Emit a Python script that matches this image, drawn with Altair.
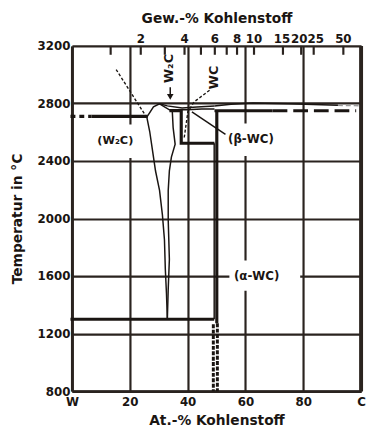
import altair as alt
import pandas as pd

FONT = "DejaVu Sans"
INK = "#1a1512"
GRID = "#2a231f"

# ---- axes ----
x_ticks = [0, 20, 40, 60, 80, 100]
y_ticks = [800, 1200, 1600, 2000, 2400, 2800, 3200]
gew_ticks = [1, 2, 3, 4, 5, 6, 7, 8, 10, 15, 20, 25, 50]
gew_labels = [2, 4, 6, 8, 10, 15, 20, 25, 50]
gew_label_nudge = [0, 0, 0, 0, 0, -1, -2, 2, 0]


def at_pct(w):
    """weight-% carbon -> atom-% carbon (W-C)"""
    c = w / 12.011
    m = (100 - w) / 183.84
    return 100 * c / (c + m)


# ---- phase lines (at.-% C, temperature) ----
thick_lines = {
    "eut_W":      ([6.8, 26.2], [2710, 2710]),
    "eutectoid":  ([-0.5, 49.2], [1300, 1300]),
    "beta_box":   ([33.7, 37.8, 37.8, 49.3], [2749, 2749, 2523, 2523]),
    "top_2750":   ([49.3, 69.4], [2749, 2749]),
    "wc_line":    ([50.1, 50.1], [2749, 1272]),
}
long_dash_lines = {
    "eut_W_dash":  ([-0.5, 6.8], [2710, 2710]),
}
long_dash2_lines = {
    "top_2750_dash": ([69.4, 98.3], [2749, 2749]),
}
short_dash_lines = {
    "wc_low_l": ([48.9, 48.9], [1265, 800]),
    "wc_low_r": ([50.3, 50.3], [1272, 800]),
}
thin_lines = {
    "w2c_left":  ([25.9, 26.9, 27.9, 28.9, 30.3, 31.3, 32.0, 32.3, 32.7, 33.0],
                  [2705, 2605, 2468, 2332, 2195, 2024, 1853, 1648, 1477, 1300]),
    "w2c_right": ([34.7, 35.0, 35.7, 34.4, 33.7, 33.3, 33.3, 33.7, 33.3, 33.0],
                  [2749, 2632, 2516, 2427, 2332, 2195, 1990, 1716, 1511, 1300]),
    "liq_top":   ([25.9, 28.2, 30.3, 33.0, 38.1, 43.2, 49.3],
                  [2705, 2776, 2797, 2783, 2769, 2776, 2783]),
    "sol_top":   ([30.3, 33.7, 39.8, 44.9, 49.3], [2797, 2756, 2756, 2762, 2762]),
    "liq_C":     ([49.3, 55.0, 62.6, 75.0, 92.0], [2783, 2795, 2803, 2798, 2787]),
    "delta_left": ([49.2, 49.2], [2523, 1300]),
    "beta_leader": ([41.5, 53.1], [2742, 2585]),
    "arrow":     ([34.0, 34.0], [2913, 2850]),
}
dotted_lines = {
    "liq_W":  ([15.3, 25.5], [3036, 2714]),
    "liq_WC": ([47.6, 42.2, 40.1, 38.8], [2892, 2810, 2742, 2557]),
}
grey_lines = {
    "liq_C_end": ([92.0, 100.0], [2787, 2784]),
}
frame_lines = {
    "right": ([100, 100], [800, 3200]),
}

# labels
label_text = ["(W\u2082C)", "(\u03b2-WC)", "(\u03b1-WC)"]
label_at = [15.0, 61.9, 63.9]
label_T = [2537, 2550, 1600]
label_size = [11.5, 12, 12]

box_at = [15.1, 62.2, 66.7]
box_T = [2537, 2547, 1603]
box_w = [46, 52, 72]
box_h = [34, 33, 31]

rot_text = ["W\u2082C", "WC"]
rot_at = [33.6, 49.3]
rot_T = [3043, 2981]

arrow_at = [34.0]
arrow_T = [2846]


def lines_df(d):
    rows = []
    for name, (xs, ts) in d.items():
        for i, (a, t) in enumerate(zip(xs, ts)):
            rows.append({"line": name, "i": i, "at": a, "T": t})
    return pd.DataFrame(rows)


xscale = alt.Scale(domain=[0, 100], nice=False, zero=False, clamp=False)
yscale = alt.Scale(domain=[800, 3200], nice=False, zero=False)

nb = "\u00a0\u00a0"
xaxis = alt.Axis(
    values=x_ticks,
    labelExpr=f"datum.value == 0 ? '{nb}W' : datum.value == 100 ? 'C' : datum.label",
    grid=True, gridColor=GRID, gridWidth=2.2, gridOpacity=1,
    domainColor=GRID, domainWidth=3, ticks=False,
    labelPadding=6, labelFontSize=12, labelFontWeight="bold", labelFont=FONT,
    labelColor=INK, labelFlush=False, labelOverlap=False,
    title="At.-% Kohlenstoff", titleFont=FONT, titleFontSize=14,
    titleFontWeight="bold", titleColor=INK, titleX=147, titleY=33.5,
    titleBaseline="alphabetic", titleAlign="center",
)
yaxis = alt.Axis(
    values=y_ticks, format="d",
    grid=True, gridColor=GRID, gridWidth=2.2, gridOpacity=1,
    domainColor=GRID, domainWidth=3, ticks=False,
    labelPadding=2, labelFontSize=12, labelFontWeight="bold", labelFont=FONT,
    labelColor=INK, labelOverlap=False, labelFlush=False,
    title="Temperatur in \u00b0C", titleFont=FONT, titleFontSize=14,
    titleFontWeight="bold", titleColor=INK, titleAngle=270,
    titleX=-51, titleY=175.5, titleAlign="center", titleBaseline="alphabetic",
)

X = alt.X("at:Q", scale=xscale, axis=xaxis)
Y = alt.Y("T:Q", scale=yscale, axis=yaxis)

layers = []

# white boxes behind the labels
for a, t, w, h in zip(box_at, box_T, box_w, box_h):
    bdf = pd.DataFrame({"at": [a], "T": [t]})
    layers.append(
        alt.Chart(bdf).mark_rect(
            color="white", xOffset=-w / 2, x2Offset=w / 2,
            yOffset=-h / 2, y2Offset=h / 2,
        ).encode(x=X, x2="at:Q", y=Y, y2="T:Q")
    )


def line_layer(d, **kw):
    return alt.Chart(lines_df(d)).mark_line(**kw).encode(
        x=X, y=Y, detail="line:N", order="i:Q"
    )


layers += [
    line_layer(thin_lines, color=INK, strokeWidth=1.5),
    line_layer(dotted_lines, color=INK, strokeWidth=1.4, strokeDash=[3, 2]),
    line_layer(grey_lines, color="#9a9a9a", strokeWidth=1.5, strokeDash=[5, 3]),
    line_layer(thick_lines, color=INK, strokeWidth=3.2),
    line_layer(long_dash_lines, color=INK, strokeWidth=3.2, strokeDash=[5, 4]),
    line_layer(long_dash2_lines, color=INK, strokeWidth=3.2, strokeDash=[15, 6]),
    line_layer(short_dash_lines, color=INK, strokeWidth=3, strokeDash=[4, 1.5]),
    line_layer(frame_lines, color=GRID, strokeWidth=4),
]

# arrow head
layers.append(
    alt.Chart(pd.DataFrame({"at": arrow_at, "T": arrow_T})).mark_point(
        shape="triangle-down", filled=True, size=45, color=INK, opacity=1
    ).encode(x=X, y=Y)
)

# phase labels
layers.append(
    alt.Chart(pd.DataFrame({"at": label_at, "T": label_T, "txt": label_text,
                            "fs": label_size})).mark_text(
        font=FONT, fontWeight="bold", color=INK,
        align="center", baseline="middle",
    ).encode(x=X, y=Y, text="txt:N", size=alt.Size("fs:Q", scale=None, legend=None))
)
layers.append(
    alt.Chart(pd.DataFrame({"at": rot_at, "T": rot_T, "txt": rot_text})).mark_text(
        font=FONT, fontSize=13, fontWeight="bold", color=INK,
        align="center", baseline="middle", angle=270,
    ).encode(x=X, y=Y, text="txt:N")
)

# top (weight-%) labels, grouped by their small horizontal nudge
for nudge in sorted(set(gew_label_nudge)):
    ws = [w for w, n in zip(gew_labels, gew_label_nudge) if n == nudge]
    top_df = pd.DataFrame({"at": [at_pct(w) for w in ws],
                           "lab": [str(w) for w in ws]})
    layers.append(
        alt.Chart(top_df).mark_text(
            font=FONT, fontSize=12, fontWeight="bold", color=INK,
            align="center", baseline="alphabetic", dx=nudge,
        ).encode(x=X, y=alt.value(-3), text="lab:N")
    )

main = alt.layer(*layers)

# top axis (independent scale) with inward ticks
tick_df = pd.DataFrame({"at": [at_pct(w) for w in gew_ticks]})
top_axis = alt.Axis(
    orient="top", labels=False, ticks=False, domain=False, grid=False,
    title="Gew.-% Kohlenstoff", titleFont=FONT, titleFontSize=14,
    titleFontWeight="bold", titleColor=INK, titleX=147, titleY=-23.5,
    titleBaseline="alphabetic", titleAlign="center",
)
top_layer = alt.Chart(tick_df).mark_rule(color=GRID, strokeWidth=2.2).encode(
    x=alt.X("at:Q", scale=alt.Scale(domain=[0, 100], nice=False, zero=False), axis=top_axis),
    y=alt.value(0), y2=alt.value(9),
)

chart = alt.layer(main, top_layer).resolve_scale(x="independent").properties(
    width=294, height=351,
    autosize=alt.AutoSizeParams(type="none"),
    padding={"left": 65, "top": 35, "right": 5, "bottom": 38},
    background="white",
).configure_view(stroke=None)

chart.save("out.html", embed_options={"renderer": "svg", "actions": False})
